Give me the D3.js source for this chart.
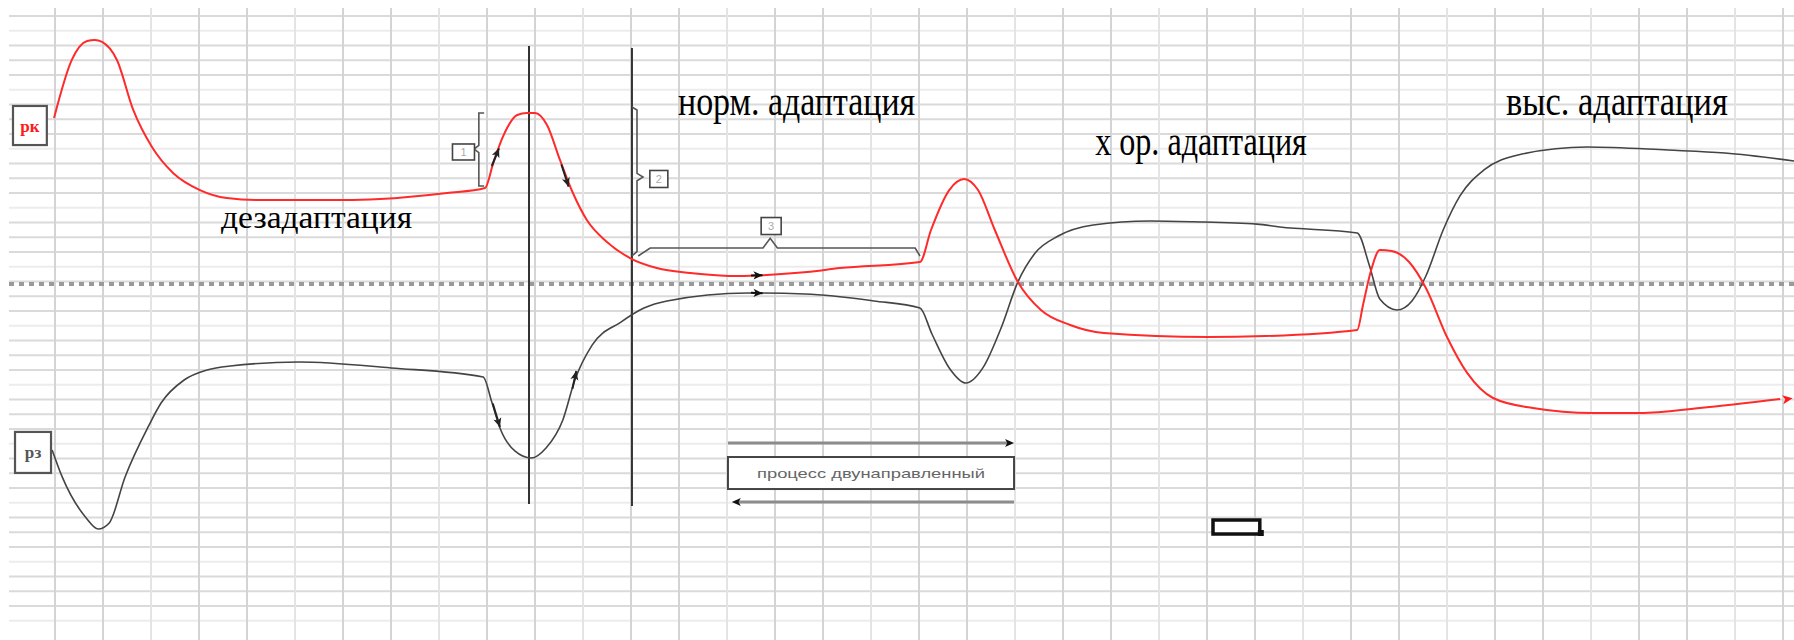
<!DOCTYPE html>
<html><head><meta charset="utf-8">
<script src="https://cdn.jsdelivr.net/npm/d3@7"></script>
<style>html,body{margin:0;padding:0;background:#fff;}svg{display:block;}</style>
</head><body>
<svg id="chart" width="1794" height="640"></svg>
<script>
// ---- data (x in grid columns, y in grid rows above the dashed baseline) ----
const redX = [0.98,1.35,1.67,1.83,1.98,2.29,2.63,3.02,3.46,4.02,4.58,5.27,7.04,7.77,9.17,9.96,10.13,10.33,10.63,10.83,11.00,11.25,11.52,11.79,12.08,12.50,12.98,13.54,14.23,15.27,15.83,16.67,17.35,19.02,19.25,19.63,19.94,20.23,20.58,21.06,21.54,22.15,22.85,25.02,26.21,28.13,28.25,28.42,28.60,28.85,29.21,29.56,30.00,30.42,30.96,31.79,33.04,34.02,35.27,36.94];
const redY = [11.25,15.19,16.47,16.54,16.41,15.19,11.80,9.29,7.53,6.37,5.83,5.69,5.69,5.76,6.17,6.51,8.20,9.97,11.46,11.59,11.59,10.78,8.41,6.17,4.34,2.85,1.76,1.08,0.75,0.54,0.61,0.81,1.08,1.49,3.66,6.37,7.12,6.37,3.66,0.14,-1.76,-2.78,-3.32,-3.59,-3.53,-3.12,-1.42,0.95,2.31,2.24,1.49,-0.27,-3.59,-6.03,-7.73,-8.41,-8.75,-8.75,-8.41,-7.80];
const blackX = [0.94,1.15,1.65,1.90,2.13,2.46,2.94,3.21,3.69,4.17,4.65,6.08,8.00,9.92,10.10,10.27,10.58,10.92,11.23,11.58,11.83,12.19,12.79,13.27,13.75,15.44,16.63,18.06,19.02,19.27,19.63,19.98,20.33,20.71,21.06,21.42,21.90,22.63,23.81,24.71,26.04,26.52,28.13,28.38,28.60,28.96,29.27,29.56,29.92,30.27,30.77,31.48,32.92,34.60,35.79,37.23];
const blackY = [-11.25,-13.08,-15.86,-16.61,-16.20,-13.08,-9.69,-8.07,-6.51,-5.83,-5.56,-5.29,-5.69,-6.31,-8.00,-9.76,-11.32,-11.80,-11.12,-9.22,-6.51,-4.14,-2.58,-1.63,-1.15,-0.61,-0.68,-1.15,-1.63,-3.39,-5.69,-6.71,-5.69,-2.98,0.14,2.10,3.25,4.00,4.27,4.22,4.06,3.86,3.46,1.29,-1.02,-1.76,-1.15,0.54,3.66,5.97,7.73,8.75,9.29,9.08,8.88,8.34];
const seriesLabels = ["рк", "рз"];
const phaseLabels = ["дезадаптация", "норм. адаптация", "х ор. адаптация", "выс. адаптация"];
const braceLabels = ["1", "2", "3"];
const processLabel = "процесс двунаправленный";

// ---- scales ----
const svg = d3.select("#chart");
const x = d3.scaleLinear().domain([0, 37]).range([7, 1783]);
const y = d3.scaleLinear().domain([-20, 20]).range([579, -11]);

// ---- grid ----
const g = svg.append("g");
const rows = d3.range(0, 42).map(k => 18.17 - k);
g.selectAll("line.h").data(rows).join("line")
  .attr("x1", 9).attr("x2", 1794)
  .attr("y1", d => y(d)).attr("y2", d => y(d))
  .attr("stroke", (d, i) => (i % 4 === 1) ? "#ececec" : "#dadada")
  .attr("stroke-width", 2);
const cols = d3.range(1, 38);
g.selectAll("line.v").data(cols).join("line")
  .attr("x1", d => x(d)).attr("x2", d => x(d))
  .attr("y1", 8).attr("y2", 640)
  .attr("stroke", (d, i) => (i % 3 === 2) ? "#e4e4e4" : "#d4d4d4")
  .attr("stroke-width", 2);

// dashed baseline
svg.append("line").attr("x1", 9).attr("x2", 1794).attr("y1", y(0)).attr("y2", y(0))
  .attr("stroke", "#9a9a9a").attr("stroke-width", 4).attr("stroke-dasharray", "5,5");

// vertical black lines
[[10.875, 16.14, -14.92], [13.02, 16.0, -15.05]].forEach(([u, a, b]) => {
  svg.append("line").attr("x1", x(u)).attr("x2", x(u)).attr("y1", y(a)).attr("y2", y(b))
    .attr("stroke", "#333").attr("stroke-width", 2);
});

// ---- curves ----
const line = d3.line().x(d => x(d[0])).y(d => y(d[1])).curve(d3.curveMonotoneX);
const red = redX.map((v, i) => [v, redY[i]]);
const blk = blackX.map((v, i) => [v, blackY[i]]);
svg.append("path").attr("d", line(blk)).attr("fill", "none").attr("stroke", "#444").attr("stroke-width", 1.6);
svg.append("path").attr("d", line(red)).attr("fill", "none").attr("stroke", "#ff2a2a").attr("stroke-width", 2);

// arrowheads
function arrowHead(px, py, angDeg, color, size) {
  const s = size || 9;
  svg.append("path")
    .attr("d", `M0,0 L${-s},${-s*0.45} L${-s*0.75},0 L${-s},${s*0.45} Z`)
    .attr("transform", `translate(${px},${py}) rotate(${angDeg})`)
    .attr("fill", color);
}
function segArrow(u1, v1, u2, v2, color) {
  const x1 = x(u1), y1 = y(v1), x2 = x(u2), y2 = y(v2);
  svg.append("line").attr("x1", x1).attr("y1", y1).attr("x2", x2).attr("y2", y2)
    .attr("stroke", color).attr("stroke-width", 2);
  arrowHead(x2, y2, Math.atan2(y2 - y1, x2 - x1) * 180 / Math.PI, color, 9);
}
segArrow(10.10, 8.0, 10.25, 9.2, "#222");
segArrow(11.55, 8.1, 11.70, 6.6, "#222");
segArrow(10.12, -8.1, 10.27, -9.7, "#222");
segArrow(11.78, -7.1, 11.86, -5.9, "#222");
segArrow(15.5, 0.58, 15.74, 0.60, "#111");
segArrow(15.5, -0.60, 15.74, -0.62, "#111");
// red end arrow
arrowHead(x(37.2), y(-7.75), -8, "#ff1a1a", 10);

// ---- braces ----
const bs = "#555";
function path(d) { svg.append("path").attr("d", d).attr("fill", "none").attr("stroke", bs).attr("stroke-width", 1.6); }
path(`M${x(9.94)},${y(11.59)} L${x(9.83)},${y(11.59)} L${x(9.83)},${y(9.4)} L${x(9.73)},${y(9.15)} L${x(9.83)},${y(8.9)} L${x(9.83)},${y(6.64)} L${x(9.94)},${y(6.64)}`);
path(`M${x(13.02)},${y(12.0)} L${x(13.125)},${y(11.8)} L${x(13.125)},${y(7.5)} L${x(13.25)},${y(7.25)} L${x(13.125)},${y(7.0)} L${x(13.125)},${y(2.2)} L${x(13.02)},${y(1.9)}`);
path(`M${x(13.15)},${y(1.9)} L${x(13.4)},${y(2.44)} L${x(15.75)},${y(2.44)} L${x(15.9)},${y(3.1)} L${x(16.05)},${y(2.44)} L${x(18.92)},${y(2.44)} L${x(19.02)},${y(1.9)}`);
[[9.51, 8.95, 22, 16], [13.58, 7.12, 18, 17], [15.92, 3.93, 20, 17]].forEach(([u, v, w, h], i) => {
  svg.append("rect").attr("x", x(u) - w/2).attr("y", y(v) - h/2).attr("width", w).attr("height", h)
    .attr("fill", "#fff").attr("stroke", "#444").attr("stroke-width", 1.6);
  svg.append("text").attr("x", x(u)).attr("y", y(v) + 4).attr("text-anchor", "middle")
    .attr("font-family", "Liberation Sans, Arial, sans-serif").attr("font-size", 11).attr("fill", "#aaa")
    .text(braceLabels[i]);
});

// ---- series label boxes ----
[[0.125, 12.07, 0.83, 9.42, "#ff1a1a"], [0.167, -10.03, 0.917, -12.81, "#555"]].forEach(([u1, v1, u2, v2, c], i) => {
  svg.append("rect").attr("x", x(u1)).attr("y", y(v1)).attr("width", x(u2) - x(u1)).attr("height", y(v2) - y(v1))
    .attr("fill", "#fff").attr("stroke", "#555").attr("stroke-width", 2.2);
  svg.append("text").attr("x", (x(u1) + x(u2)) / 2).attr("y", (y(v1) + y(v2)) / 2 + 6)
    .attr("text-anchor", "middle").attr("font-family", "Liberation Serif, serif").attr("font-weight", "bold")
    .attr("font-size", 17).attr("fill", c).text(seriesLabels[i]);
});

// ---- phase labels ----
[[4.46, 8.44, 3.80, 31], [13.98, 18.92, 11.46, 42], [22.67, 27.08, 8.75, 42], [31.23, 35.85, 11.46, 42]].forEach(([u1, u2, v, fs], i) => {
  svg.append("text").attr("x", x(u1)).attr("y", y(v))
    .attr("font-family", "Liberation Serif, serif").attr("font-size", fs).attr("fill", "#000")
    .attr("textLength", x(u2) - x(u1)).attr("lengthAdjust", "spacingAndGlyphs")
    .text(phaseLabels[i]);
});

// ---- process box with arrows ----
svg.append("line").attr("x1", x(15.02)).attr("x2", x(20.9)).attr("y1", y(-10.78)).attr("y2", y(-10.78))
  .attr("stroke", "#8c8c8c").attr("stroke-width", 3);
arrowHead(x(20.98), y(-10.78), 0, "#111", 9);
svg.append("line").attr("x1", x(15.2)).attr("x2", x(20.98)).attr("y1", y(-14.78)).attr("y2", y(-14.78))
  .attr("stroke", "#8c8c8c").attr("stroke-width", 3);
arrowHead(x(15.1), y(-14.78), 180, "#111", 9);
svg.append("rect").attr("x", x(15.02)).attr("y", y(-11.73)).attr("width", x(20.98) - x(15.02)).attr("height", y(-13.9) - y(-11.73))
  .attr("fill", "#fff").attr("stroke", "#444").attr("stroke-width", 2);
svg.append("text").attr("x", x(18.0)).attr("y", y(-13.15)).attr("text-anchor", "middle")
  .attr("font-family", "Liberation Sans, Arial, sans-serif").attr("font-size", 13).attr("fill", "#666")
  .attr("textLength", 228).attr("lengthAdjust", "spacingAndGlyphs")
  .text(processLabel);

// small empty rectangle
svg.append("rect").attr("x", x(25.125)).attr("y", y(-16.0)).attr("width", x(26.1) - x(25.125)).attr("height", y(-16.95) - y(-16.0))
  .attr("fill", "#fff").attr("stroke", "#111").attr("stroke-width", 3.5);
svg.append("rect").attr("x", x(26.1) - 2).attr("y", y(-16.95) - 4).attr("width", 6).attr("height", 6).attr("fill", "#111");
</script>
</body></html>
